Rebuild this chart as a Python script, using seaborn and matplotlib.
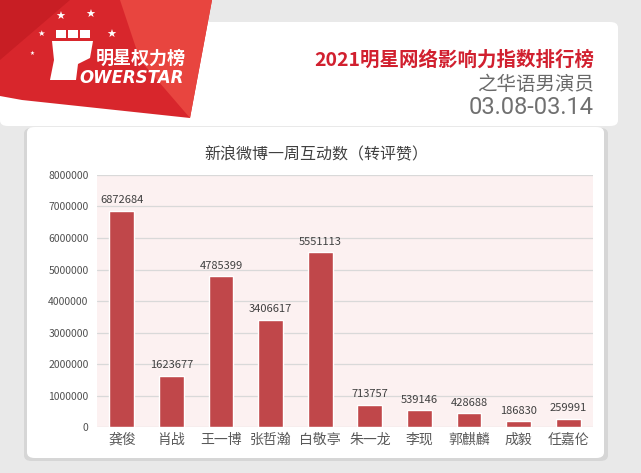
import numpy as np
import pandas as pd
import matplotlib
matplotlib.use("Agg")
import matplotlib.pyplot as plt
import seaborn as sns
from matplotlib.patches import FancyBboxPatch, Polygon, Rectangle

# data
names = ["龚俊", "肖战", "王一博", "张哲瀚", "白敬亭", "朱一龙", "李现", "郭麒麟", "成毅", "任嘉伦"]
values = [6872684, 1623677, 4785399, 3406617, 5551113, 713757, 539146, 428688, 186830, 259991]
yticks = [0, 1000000, 2000000, 3000000, 4000000, 5000000, 6000000, 7000000, 8000000]

chart_title = "新浪微博一周互动数（转评赞）"
header_title = "2021明星网络影响力指数排行榜"
header_sub = "之华语男演员"
header_date = "03.08-03.14"

sns.set_theme(style="white")
plt.rcParams['font.family'] = ['Noto Sans CJK SC', 'DejaVu Sans']

W, H = 641, 473
fig = plt.figure(figsize=(W / 100, H / 100), dpi=100)
fig.patch.set_facecolor("#e9e9e9")


def px(x, y):
    # pixel coords (top-left origin) -> figure fraction
    return x / W, 1 - y / H


def box(x0, y0, x1, y1, color, r=0.012, z=0, ec="none"):
    (fx0, fy1), (fx1, fy0) = px(x0, y0), px(x1, y1)
    p = FancyBboxPatch((fx0, fy0), fx1 - fx0, fy1 - fy0,
                       boxstyle="round,pad=0,rounding_size=%f" % r,
                       transform=fig.transFigure, fc=color, ec=ec, zorder=z)
    fig.add_artist(p)


# header and chart cards
box(0, 22, 618, 126, "white", z=0)
box(24, 128, 608, 461, "#d6d6d6", z=0)
box(27, 127, 604, 458, "white", z=0)

# logo block
red_pts = [px(0, 0), px(212, 0), px(190, 118), px(22, 100), px(0, 96)]
fig.add_artist(Polygon(red_pts, closed=True, transform=fig.transFigure,
                       fc="#d8262c", ec="none", zorder=1))
fig.add_artist(Polygon([px(120, 0), px(212, 0), px(190, 118), px(140, 60)], closed=True,
                       transform=fig.transFigure, fc="#e8453f", ec="none", zorder=1))
fig.add_artist(Polygon([px(0, 0), px(70, 0), px(0, 60)], closed=True,
                       transform=fig.transFigure, fc="#c81e24", ec="none", zorder=1))
# fist icon (simplified)
for i in range(3):
    x0, y0 = px(56 + i * 12, 30)
    fig.add_artist(Rectangle((x0, y0 - 8 / H), 10 / W, 8 / H, transform=fig.transFigure,
                             fc="white", ec="none", zorder=2))
fig.add_artist(Polygon([px(52, 41), px(93, 41), px(90, 58), px(78, 64), px(76, 80),
                        px(50, 80), px(54, 60)], closed=True, transform=fig.transFigure,
                       fc="white", ec="none", zorder=2))
for sx, sy, ss in [(60, 17, 8), (90, 15, 8), (41, 33, 6), (111, 35, 8), (32, 53, 4)]:
    fx, fy = px(sx, sy)
    fig.text(fx, fy, "★", color="white", fontsize=ss, ha="center", va="center",
             family=["DejaVu Sans"], zorder=3)
fx, fy = px(96, 58)
fig.text(fx, fy, "明星权力榜", color="white", fontsize=13, fontweight="bold",
         style="italic", ha="left", va="center", zorder=3)
fx, fy = px(79, 78)
fig.text(fx, fy, "OWERSTAR", color="white", fontsize=12, fontweight="bold",
         style="italic", ha="left", va="center", family=["DejaVu Sans"], zorder=3)

# header text
fx, fy = px(594, 60)
fig.text(fx, fy, header_title, color="#d1202f", fontsize=14, fontweight="bold",
         ha="right", va="center", zorder=3)
fx, fy = px(594, 84)
fig.text(fx, fy, header_sub, color="#6a6a6a", fontsize=14, ha="right", va="center",
         fontweight="light", zorder=3)
fx, fy = px(594, 108)
fig.text(fx, fy, header_date, color="#707070", fontsize=17, ha="right", va="center",
         family=["Roboto", "DejaVu Sans"], zorder=3)

# chart title
fx, fy = px(316, 155)
fig.text(fx, fy, chart_title, color="#404040", fontsize=11.5, ha="center", va="center", zorder=3)

# bar chart
l, t = px(97, 175)
r, b = px(593, 427)
ax = fig.add_axes([l, b, r - l, t - b], zorder=2)
df = pd.DataFrame({"name": names, "value": values})
sns.barplot(data=df, x="name", y="value", color="#c0474a", saturation=1,
            width=0.5, ax=ax, zorder=3)
ax.set_facecolor("#fcf1f1")
ax.set_ylim(0, 8000000)
ax.set_yticks(yticks)
ax.set_yticklabels([str(v) for v in yticks])
ax.yaxis.grid(True, color="#d9d9d9", linewidth=0.9, zorder=0)
ax.set_axisbelow(True)
for s in ax.spines.values():
    s.set_visible(False)
ax.tick_params(axis="y", labelsize=7.5, colors="#505050", length=0, pad=6)
ax.tick_params(axis="x", labelsize=10, colors="#595959", length=0, pad=4)
ax.set_xlabel("")
ax.set_ylabel("")
for i, v in enumerate(values):
    ax.text(i, v + 170000, str(v), ha="center", va="bottom", fontsize=8, color="#404040")

fig.savefig("out.png", dpi=100, facecolor=fig.get_facecolor())
